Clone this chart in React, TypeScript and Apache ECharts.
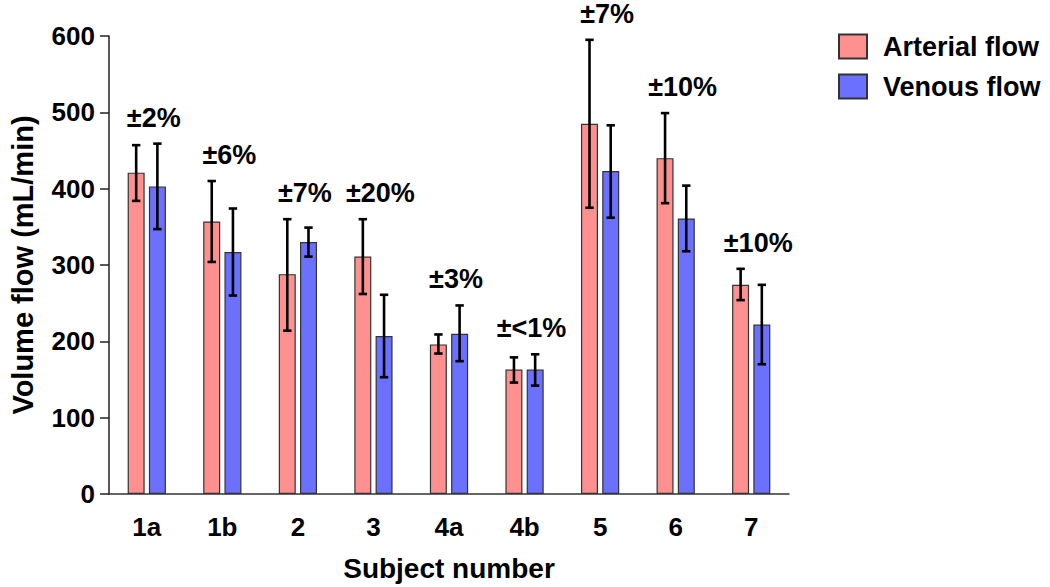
import React, { useEffect, useRef } from "react";
import * as echarts from "echarts";

const categories = ["1a", "1b", "2", "3", "4a", "4b", "5", "6", "7"];
const arterialMean = [421, 357, 288, 311, 196, 163, 485, 440, 274];
const arterialLow = [384, 304, 214, 262, 184, 146, 375, 381, 254];
const arterialHigh = [457, 410, 360, 360, 209, 179, 595, 499, 295];
const venousMean = [403, 317, 330, 207, 210, 163, 423, 361, 222];
const venousLow = [347, 260, 311, 153, 174, 142, 362, 318, 170];
const venousHigh = [459, 374, 349, 261, 247, 183, 483, 404, 274];
const percentLabels = ["±2%", "±6%", "±7%", "±20%", "±3%", "±<1%", "±7%", "±10%", "±10%"];
const yTicks = { min: 0, max: 600, interval: 100 };

const FONT = "'Liberation Sans', Arial, Helvetica, sans-serif";
const BAR_W = 17;
const BAR_OFFSET = 10.6;

function errorRender(low: number[], high: number[], dx: number) {
  return (params: any, api: any) => {
    const i = params.dataIndex;
    const top = api.coord([i, high[i]]);
    const bot = api.coord([i, low[i]]);
    const x = top[0] + dx;
    const cap = 4.2;
    const style = { stroke: "#000", lineWidth: 2.6 };
    return {
      type: "group",
      children: [
        { type: "line", shape: { x1: x, y1: top[1], x2: x, y2: bot[1] }, style },
        { type: "line", shape: { x1: x - cap, y1: top[1], x2: x + cap, y2: top[1] }, style },
        { type: "line", shape: { x1: x - cap, y1: bot[1], x2: x + cap, y2: bot[1] }, style },
      ],
    };
  };
}

export default function App() {
  const ref = useRef<HTMLDivElement>(null);
  useEffect(() => {
    if (!ref.current) return;
    const chart = echarts.init(ref.current, undefined, { renderer: "svg" });
    const idx = categories.map((_, i) => i);
    chart.setOption({
      animation: false,
      backgroundColor: "#fff",
      textStyle: { fontFamily: FONT },
      grid: { left: 106, right: 261, top: 36, bottom: 91, containLabel: false },
      legend: {
        data: ["Arterial flow", "Venous flow"],
        orient: "vertical",
        left: 838,
        top: 33,
        padding: 0,
        itemWidth: 28,
        itemHeight: 24,
        itemGap: 13,
        icon: "rect",
        textStyle: { fontSize: 27, fontWeight: "bold", color: "#000", fontFamily: FONT, padding: [0, 0, 0, 11] },
      },
      xAxis: {
        type: "category",
        data: categories,
        axisLine: { lineStyle: { color: "#333", width: 1.5 } },
        axisTick: { alignWithLabel: true, length: 7, lineStyle: { color: "#333", width: 1.5 } },
        axisLabel: { fontSize: 26, fontWeight: "bold", color: "#000", margin: 20, fontFamily: FONT },
        name: "Subject number",
        nameLocation: "middle",
        nameGap: 60,
        nameTextStyle: { fontSize: 28, fontWeight: "bold", color: "#000", fontFamily: FONT },
      },
      yAxis: {
        type: "value",
        min: yTicks.min,
        max: yTicks.max,
        interval: yTicks.interval,
        splitLine: { show: false },
        axisLine: { show: true, lineStyle: { color: "#222", width: 1.5 } },
        axisTick: { show: true, length: 9, lineStyle: { color: "#222", width: 1.5 } },
        axisLabel: { fontSize: 26, fontWeight: "bold", color: "#000", margin: 14, fontFamily: FONT },
        name: "Volume flow (mL/min)",
        nameLocation: "middle",
        nameGap: 72,
        nameTextStyle: { fontSize: 29, fontWeight: "bold", color: "#000", fontFamily: FONT },
      },
      series: [
        {
          name: "Arterial flow",
          type: "bar",
          data: arterialMean,
          barWidth: BAR_W,
          barGap: "25%",
          itemStyle: { color: "#FF9090", borderColor: "#333", borderWidth: 1.2 },
        },
        {
          name: "Venous flow",
          type: "bar",
          data: venousMean,
          barWidth: BAR_W,
          barGap: "25%",
          itemStyle: { color: "#6B70FF", borderColor: "#333", borderWidth: 1.2 },
        },
        {
          type: "custom",
          name: "arterialErr",
          data: idx,
          z: 5,
          renderItem: errorRender(arterialLow, arterialHigh, -BAR_OFFSET),
        },
        {
          type: "custom",
          name: "venousErr",
          data: idx,
          z: 5,
          renderItem: errorRender(venousLow, venousHigh, BAR_OFFSET),
        },
        {
          type: "custom",
          name: "pct",
          data: idx,
          z: 6,
          clip: false,
          renderItem: (params: any, api: any) => {
            const i = params.dataIndex;
            const topVal = Math.max(arterialHigh[i], venousHigh[i]);
            const p = api.coord([i, topVal]);
            return {
              type: "text",
              x: p[0] + 7,
              y: p[1] - 26,
              style: {
                text: percentLabels[i],
                fontSize: 27,
                fontWeight: "bold",
                fontFamily: FONT,
                fill: "#000",
                align: "center",
                verticalAlign: "middle",
              },
            };
          },
        },
      ],
    });
    return () => chart.dispose();
  }, []);
  return <div ref={ref} style={{ width: 1050, height: 587, position: "absolute", left: 0, top: 0 }} />;
}
